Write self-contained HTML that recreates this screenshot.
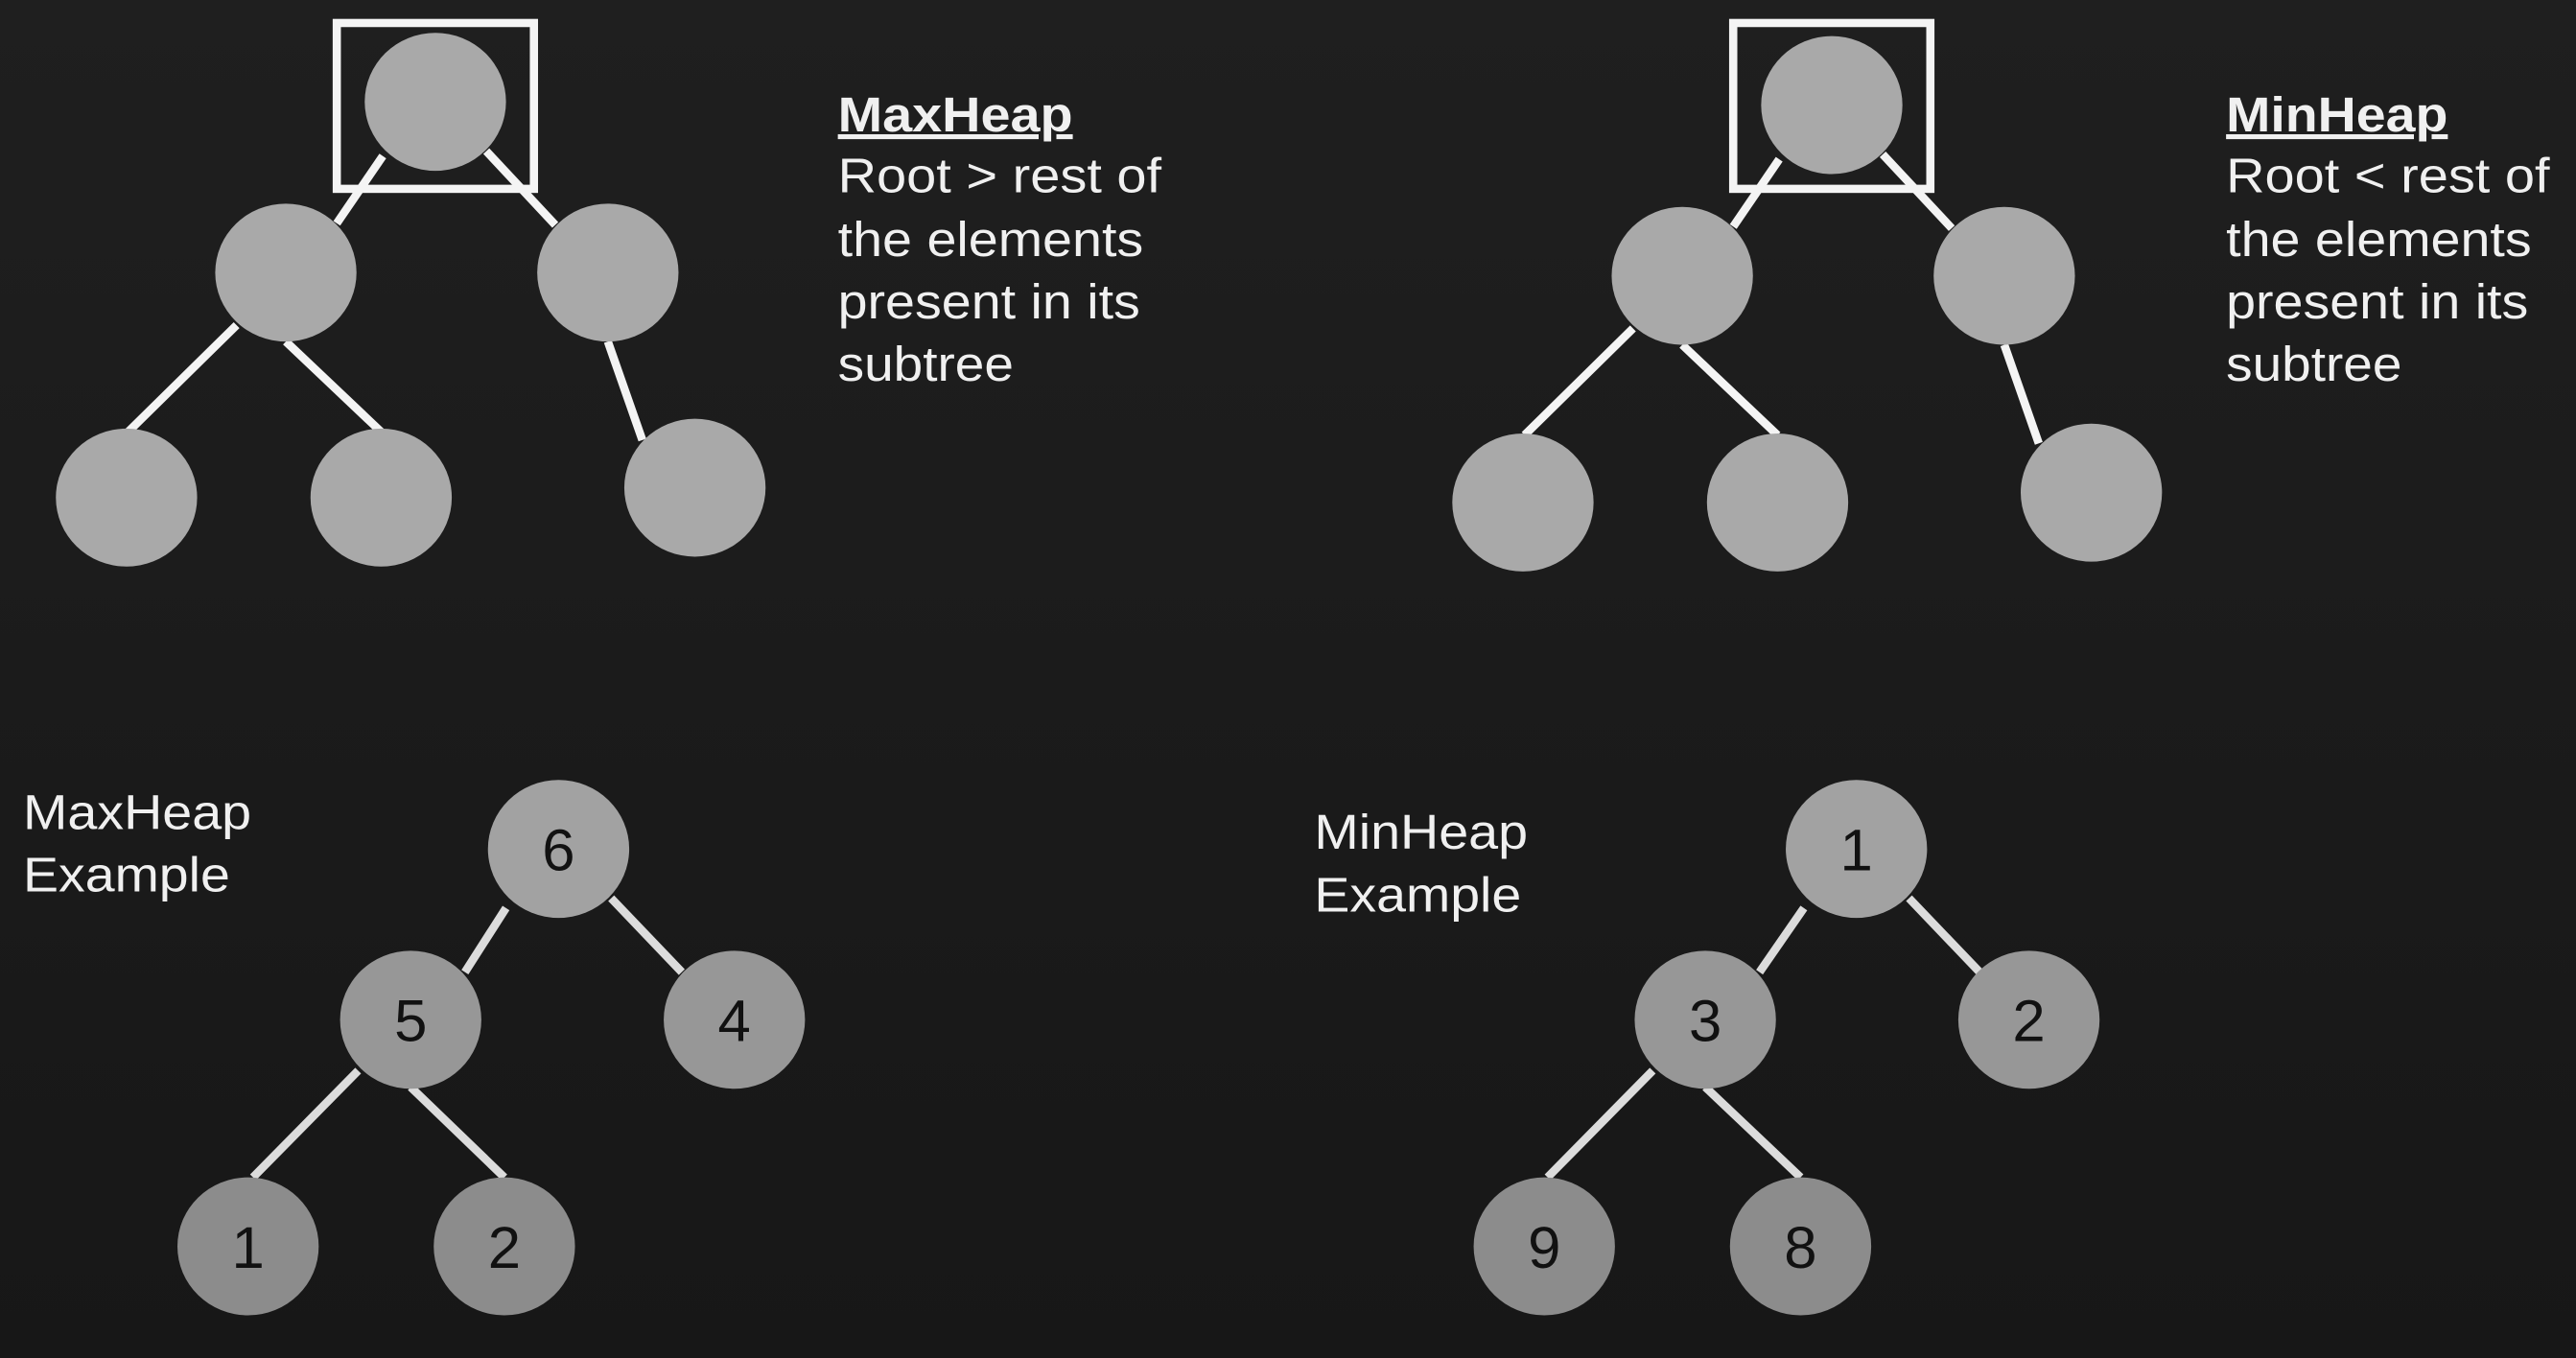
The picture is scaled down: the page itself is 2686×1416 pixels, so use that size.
<!DOCTYPE html>
<html><head><meta charset="utf-8"><style>
html,body{margin:0;padding:0;background:#1d1d1d;}
svg{display:block;}
text{font-family:"Liberation Sans",Arial,sans-serif;}
</style></head><body>
<svg width="2686" height="1416" viewBox="0 0 1568 827" preserveAspectRatio="none" font-family="Liberation Sans, Arial, sans-serif">
<defs>
<linearGradient id="bg" x1="0" y1="0" x2="0" y2="1"><stop offset="0" stop-color="#1f1f1f"/><stop offset="1" stop-color="#171717"/></linearGradient>
</defs>
<rect width="1568" height="827" fill="url(#bg)"/>
<g stroke="#f4f4f4" stroke-width="5" fill="none">
<line x1="233" y1="95" x2="205" y2="136"/><line x1="296" y1="92" x2="338" y2="137"/>
<line x1="144" y1="198" x2="78" y2="263"/><line x1="174" y1="208" x2="232" y2="263"/>
<line x1="370" y1="208" x2="391" y2="268"/>
<rect x="205" y="14" width="120" height="101"/>
<line x1="1083" y1="97" x2="1055" y2="138"/><line x1="1146" y1="94" x2="1188" y2="139"/>
<line x1="994" y1="200" x2="928" y2="265"/><line x1="1024" y1="210" x2="1082" y2="265"/>
<line x1="1220" y1="210" x2="1241" y2="270"/>
<rect x="1055" y="14" width="120" height="101"/>
</g>
<g fill="#a9a9a9">
<ellipse cx="265" cy="62" rx="43" ry="42"/><ellipse cx="174" cy="166" rx="43" ry="42"/><ellipse cx="370" cy="166" rx="43" ry="42"/>
<ellipse cx="77" cy="303" rx="43" ry="42"/><ellipse cx="232" cy="303" rx="43" ry="42"/><ellipse cx="423" cy="297" rx="43" ry="42"/>
<ellipse cx="1115" cy="64" rx="43" ry="42"/><ellipse cx="1024" cy="168" rx="43" ry="42"/><ellipse cx="1220" cy="168" rx="43" ry="42"/>
<ellipse cx="927" cy="306" rx="43" ry="42"/><ellipse cx="1082" cy="306" rx="43" ry="42"/><ellipse cx="1273" cy="300" rx="43" ry="42"/>
</g>
<g fill="#f0f0f0" font-size="30">
<text x="510" y="80" font-weight="bold" text-decoration="underline" textLength="143" lengthAdjust="spacingAndGlyphs">MaxHeap</text>
<text x="510" y="117" textLength="197" lengthAdjust="spacingAndGlyphs">Root &gt; rest of</text>
<text x="510" y="156" textLength="186" lengthAdjust="spacingAndGlyphs">the elements</text>
<text x="510" y="194" textLength="184" lengthAdjust="spacingAndGlyphs">present in its</text>
<text x="510" y="232" textLength="107" lengthAdjust="spacingAndGlyphs">subtree</text>
<text x="1355" y="80" font-weight="bold" text-decoration="underline" textLength="135" lengthAdjust="spacingAndGlyphs">MinHeap</text>
<text x="1355" y="117" textLength="197" lengthAdjust="spacingAndGlyphs">Root &lt; rest of</text>
<text x="1355" y="156" textLength="186" lengthAdjust="spacingAndGlyphs">the elements</text>
<text x="1355" y="194" textLength="184" lengthAdjust="spacingAndGlyphs">present in its</text>
<text x="1355" y="232" textLength="107" lengthAdjust="spacingAndGlyphs">subtree</text>
<text x="14" y="505" textLength="139" lengthAdjust="spacingAndGlyphs">MaxHeap</text>
<text x="14" y="543" textLength="126" lengthAdjust="spacingAndGlyphs">Example</text>
<text x="800" y="517" textLength="130" lengthAdjust="spacingAndGlyphs">MinHeap</text>
<text x="800" y="555" textLength="126" lengthAdjust="spacingAndGlyphs">Example</text>
</g>
<g stroke="#dcdcdc" stroke-width="5">
<line x1="308" y1="553" x2="283" y2="592"/><line x1="372" y1="547" x2="415" y2="592"/>
<line x1="218" y1="652" x2="154" y2="717"/><line x1="250" y1="662" x2="307" y2="717"/>
<line x1="1098" y1="553" x2="1071" y2="592"/><line x1="1162" y1="547" x2="1205" y2="592"/>
<line x1="1006" y1="652" x2="942" y2="717"/><line x1="1038" y1="662" x2="1096" y2="717"/>
</g>
<g>
<ellipse cx="340" cy="517" rx="43" ry="42" fill="#a2a2a2"/><ellipse cx="250" cy="621" rx="43" ry="42" fill="#979797"/><ellipse cx="447" cy="621" rx="43" ry="42" fill="#979797"/>
<ellipse cx="151" cy="759" rx="43" ry="42" fill="#8c8c8c"/><ellipse cx="307" cy="759" rx="43" ry="42" fill="#8c8c8c"/>
<ellipse cx="1130" cy="517" rx="43" ry="42" fill="#a2a2a2"/><ellipse cx="1038" cy="621" rx="43" ry="42" fill="#979797"/><ellipse cx="1235" cy="621" rx="43" ry="42" fill="#979797"/>
<ellipse cx="940" cy="759" rx="43" ry="42" fill="#8c8c8c"/><ellipse cx="1096" cy="759" rx="43" ry="42" fill="#8c8c8c"/>
</g>
<g fill="#111" font-size="36" text-anchor="middle">
<text x="340" y="530">6</text><text x="250" y="634">5</text><text x="447" y="634">4</text><text x="151" y="772">1</text><text x="307" y="772">2</text>
<text x="1130" y="530">1</text><text x="1038" y="634">3</text><text x="1235" y="634">2</text><text x="940" y="772">9</text><text x="1096" y="772">8</text>
</g>
</svg>
</body></html>
